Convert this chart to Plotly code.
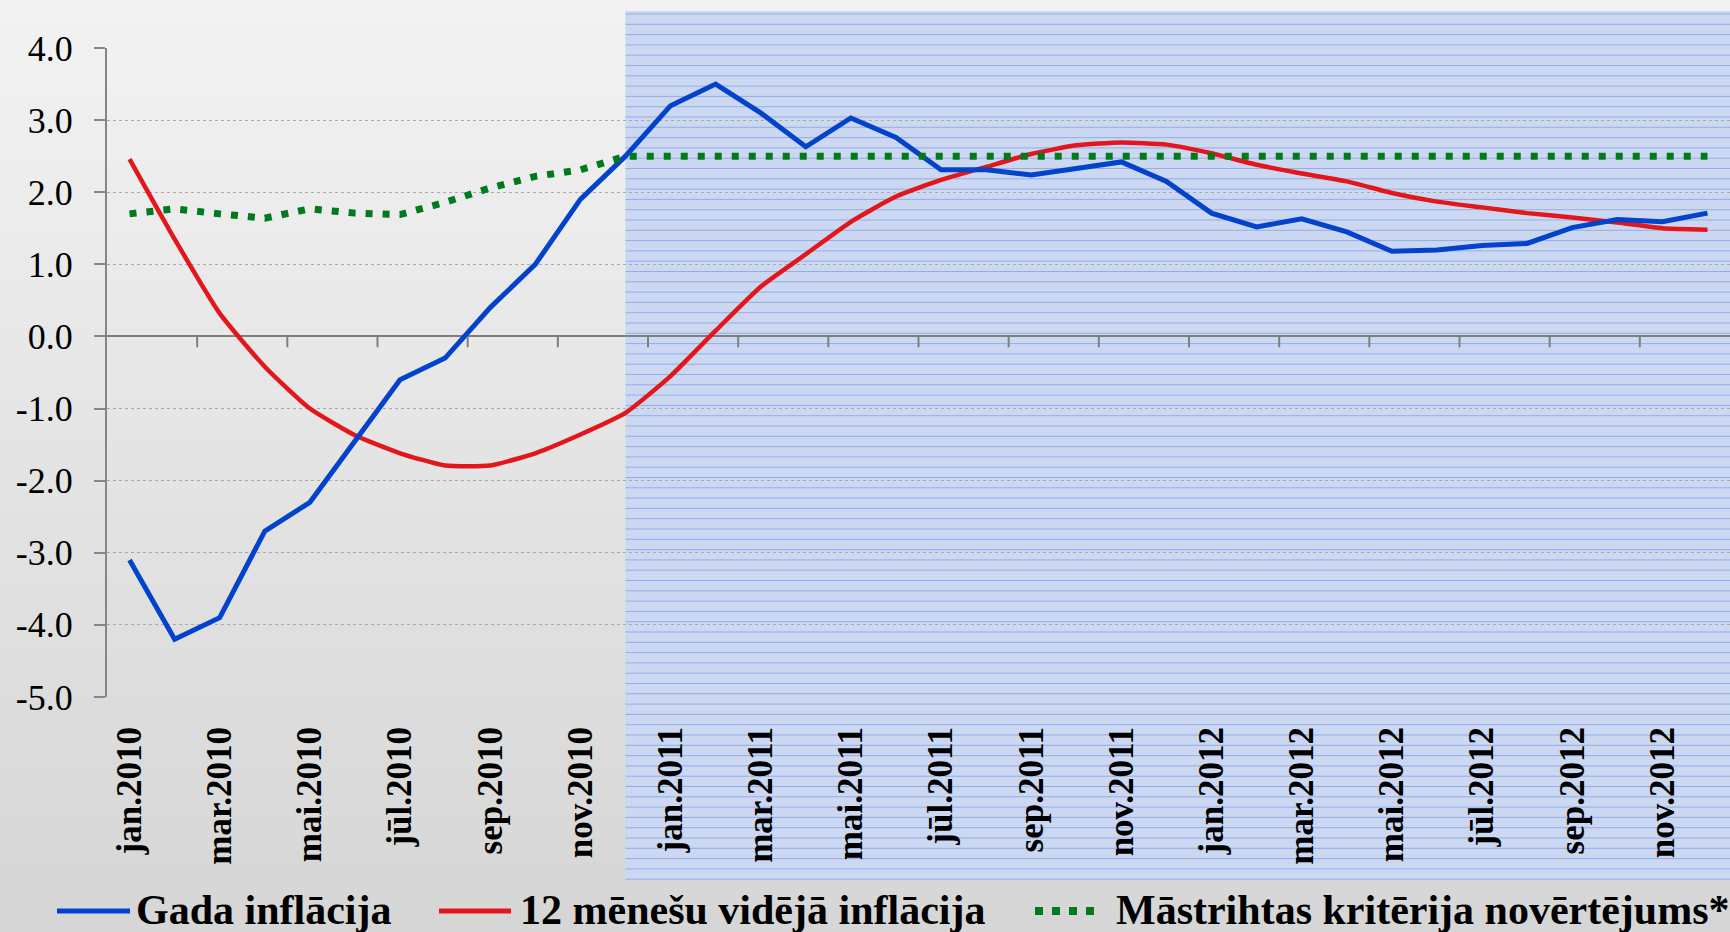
import plotly.graph_objects as go

# ---------------- data ----------------
MONTHS = ["jan", "feb", "mar", "apr", "mai", "jūn", "jūl", "aug", "sep", "okt", "nov", "dec"]
YEARS = [2010, 2011, 2012]
categories = [f"{m}.{y}" for y in YEARS for m in MONTHS]
label_cats = categories[::2]

gada_inflacija = [-3.1, -4.2, -3.9, -2.7, -2.3, -1.45, -0.6, -0.3, 0.4, 1.0, 1.9, 2.5,
                  3.2, 3.5, 3.1, 2.63, 3.03, 2.76, 2.31, 2.31, 2.24, 2.33, 2.42, 2.15,
                  1.71, 1.52, 1.63, 1.45, 1.18, 1.2, 1.26, 1.29, 1.51, 1.62, 1.59, 1.71]

videja_inflacija = [2.46, 1.35, 0.32, -0.42, -1.0, -1.37, -1.62, -1.79, -1.79, -1.62, -1.36, -1.06,
                    -0.55, 0.08, 0.69, 1.14, 1.59, 1.94, 2.17, 2.35, 2.53, 2.65, 2.69, 2.66,
                    2.54, 2.38, 2.26, 2.15, 1.99, 1.87, 1.79, 1.71, 1.65, 1.58, 1.5, 1.48]

mastrihtas = [1.7, 1.77, 1.7, 1.64, 1.77, 1.71, 1.69, 1.86, 2.06, 2.22, 2.31, 2.5,
              2.5, 2.5, 2.5, 2.5, 2.5, 2.5, 2.5, 2.5, 2.5, 2.5, 2.5, 2.5,
              2.5, 2.5, 2.5, 2.5, 2.5, 2.5, 2.5, 2.5, 2.5, 2.5, 2.5, 2.5]

series_names = ["Gada inflācija", "12 mēnešu vidējā inflācija", "Māstrihtas kritērija novērtējums*"]
series_colors = ["#0343cc", "#e3161c", "#007a1c"]

y_ticks = [4, 3, 2, 1, 0, -1, -2, -3, -4, -5]
y_ticktext = [f"{v:.1f}" for v in y_ticks]

forecast_start = "dec.2010"

# ---------------- layout geometry ----------------
W, H = 1730, 932
ML, MR, MT, MB = 107, 0, 48, 235
PW = W - ML - MR
PH = H - MT - MB
SERIF = "Liberation Serif, Times New Roman, serif"


def xp(px):
    return (px - ML) / PW


def yp(py):
    return (H - MB - py) / PH


fig = go.Figure()

fig.add_trace(go.Scatter(x=categories, y=videja_inflacija, mode="lines", name=series_names[1],
                         line=dict(color=series_colors[1], width=4.5, shape="spline", smoothing=0.5),
                         showlegend=False))
fig.add_trace(go.Scatter(x=categories, y=gada_inflacija, mode="lines", name=series_names[0],
                         line=dict(color=series_colors[0], width=5),
                         showlegend=False))
fig.add_trace(go.Scatter(x=categories, y=mastrihtas, mode="lines", name=series_names[2],
                         line=dict(color=series_colors[2], width=7, dash="7px,10px"),
                         showlegend=False))

shapes = []
# background vertical gradient
n_bands = 40
top_c, bot_c = (242, 242, 242), (214, 214, 214)
for k in range(n_bands):
    t = k / (n_bands - 1)
    c = tuple(round(top_c[j] + (bot_c[j] - top_c[j]) * t) for j in range(3))
    y_top = H * k / n_bands
    y_bot = H * (k + 1) / n_bands + 1
    shapes.append(dict(type="rect", xref="paper", yref="paper", x0=xp(0), x1=xp(W),
                       y0=yp(y_bot), y1=yp(y_top), fillcolor=f"rgb{c}",
                       line=dict(width=0), layer="below"))

# forecast shaded region (textured light blue)
x_start = categories.index(forecast_start)
x_end = len(categories) - 0.5
shapes.append(dict(type="rect", xref="x", yref="paper", x0=x_start, x1=x_end,
                   y0=yp(880), y1=yp(11), fillcolor="#ccd8f1",
                   line=dict(width=0), layer="below"))
py = 14.0
while py < 880:
    shapes.append(dict(type="line", xref="x", yref="paper", x0=x_start, x1=x_end,
                       y0=yp(py), y1=yp(py), line=dict(color="#93ade6", width=1),
                       layer="below"))
    py += 10.3

# x axis tick marks at category boundaries, hanging from the zero line
for i in range(2, len(categories), 2):
    shapes.append(dict(type="line", xref="x", yref="y", x0=i - 0.5, x1=i - 0.5,
                       y0=0, y1=-0.15, line=dict(color="#7f7f7f", width=2)))

# custom legend
legend_pos = [(57, 130, 134), (439, 511, 518), (1035, 1095, 1114)]
legend_dash = ["solid", "solid", "8px,9px"]
legend_width = [5, 5, 8]
annotations = []
ly = 910
for name, col, (sx0, sx1, tx), dsh, lw in zip(series_names, series_colors, legend_pos, legend_dash, legend_width):
    shapes.append(dict(type="line", xref="paper", yref="paper", x0=xp(sx0), x1=xp(sx1),
                       y0=yp(ly + 1), y1=yp(ly + 1), line=dict(color=col, width=lw, dash=dsh)))
    annotations.append(dict(text=name, xref="paper", yref="paper", x=xp(tx), y=yp(ly),
                            xanchor="left", yanchor="middle", showarrow=False,
                            font=dict(family=SERIF, size=42, color="black", weight="bold")))

fig.update_layout(
    width=W, height=H,
    margin=dict(l=ML, r=MR, t=MT, b=MB, pad=0),
    paper_bgcolor="#e4e4e4",
    plot_bgcolor="rgba(0,0,0,0)",
    showlegend=False,
    shapes=shapes,
    annotations=annotations,
    xaxis=dict(type="category", categoryorder="array", categoryarray=categories,
               range=[-0.5, len(categories) - 0.5],
               tickmode="array", tickvals=label_cats, ticktext=label_cats,
               tickangle=-90, ticks="", showline=False, showgrid=False, zeroline=False,
               ticklabelstandoff=22,
               tickfont=dict(family=SERIF, size=35, color="black", weight="bold")),
    yaxis=dict(range=[-5.0, 4.0], tickmode="array", tickvals=y_ticks, ticktext=y_ticktext,
               showline=True, linecolor="#868686", linewidth=2,
               ticks="outside", ticklen=11, tickwidth=2, tickcolor="#868686",
               ticklabelstandoff=14,
               showgrid=True, gridcolor="#a9a9a9", gridwidth=1, griddash="dot",
               zeroline=True, zerolinecolor="#7f7f7f", zerolinewidth=2,
               tickfont=dict(family=SERIF, size=36, color="black")),
)

fig.write_html("out.html", config={"displayModeBar": False},
               post_script="document.body.style.margin='0';document.body.style.overflow='hidden';")
